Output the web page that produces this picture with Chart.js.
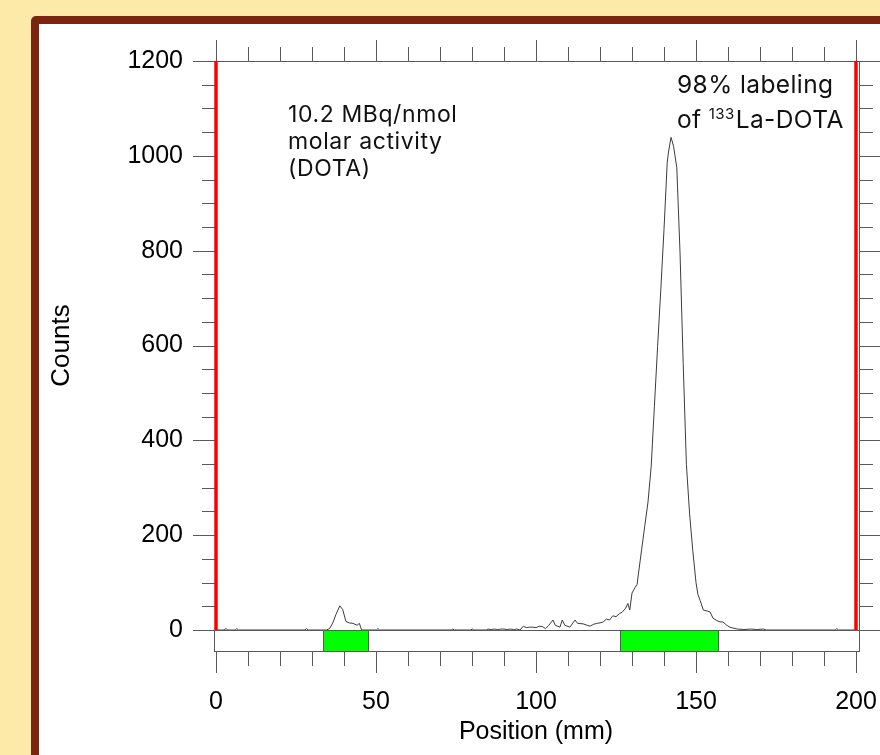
<!DOCTYPE html>
<html>
<head>
<meta charset="utf-8">
<script src="https://cdn.jsdelivr.net/npm/chart.js@4.4.1/dist/chart.umd.min.js"></script>
<style>
  html, body { margin: 0; padding: 0; width: 880px; height: 755px; overflow: hidden; background: #fde9a8; }
  #frame { position: absolute; left: 31px; top: 16px; width: 900px; height: 800px; background: #fff;
           border: 8px solid #7a2512; border-radius: 5px; box-sizing: border-box; }
  #chart { position: absolute; left: 0; top: 0; }
</style>
</head>
<body>
<div id="frame"></div>
<canvas id="chart" width="880" height="755"></canvas>
<script>
// Radio-TLC scan
const positions = [0, 2.5, 3.1, 3.7, 6.0, 6.5, 7.0, 27.8, 28.3, 28.8,
    34.5, 35.5, 36.5, 37.5, 38.7, 39.6, 40.6, 41.6, 42.8, 44.1, 44.8, 45.5,
    50.1, 50.6, 51.1, 73.5, 74, 74.5, 79.6, 80.1, 80.6,
    84.5, 85, 86, 87, 88, 89, 90, 91, 92, 93, 94, 95,
    96, 97, 98, 99, 100, 101, 102, 103, 104, 105.3, 106, 107.5, 108.2, 109, 110.6, 112.2, 113, 114.7,
    116, 116.9, 118, 119, 120, 121, 122, 123, 124, 125, 126, 127, 128, 128.7, 129.3,
    130, 131, 131.6, 132, 133, 134, 135, 136, 137, 138, 139, 140, 141, 141.4, 142.2,
    143, 144, 145, 146, 147, 148, 149, 150, 150.6, 151.3, 152.3, 153.5, 154.4, 155.3,
    156.5, 157.5, 158.4, 159.6, 160.6, 161.6, 163, 165, 167, 169, 171, 172,
    193.5, 194, 194.5, 200];
const counts = [0, 0, 3, 0, 0, 3, 0, 0, 3, 0,
    0, 3, 15, 33, 51, 43, 18, 15, 14, 10, 14, 0,
    0, 3, 0, 0, 2, 0, 0, 2, 0,
    0, 2, 1, 2, 1, 2, 2, 1, 2, 1, 2, 0,
    8, 5, 6, 6, 5, 8, 7, 3, 10, 21, 10, 6, 21, 10, 6, 21, 14, 13,
    10, 8, 12, 14, 15, 17, 23, 21, 30, 28, 34, 38, 46, 56, 42,
    78, 90, 96, 118, 169, 220, 270, 345, 472, 598, 718, 845, 985, 1008, 1039,
    1020, 975, 797, 562, 349, 245, 167, 100, 75, 62, 42, 40, 38, 25,
    20, 17, 17, 10, 6, 4, 2, 1, 2, 1, 2, 0,
    0, 3, 0, 0];

const xTicks = [0, 50, 100, 150, 200];
const yTicks = [0, 200, 400, 600, 800, 1000, 1200];
const xMinorStep = 10;
const yMinorStep = 50;

// regions of interest drawn in the lane strip
const roiStart = [33.4, 126.4];
const roiEnd = [47.6, 156.8];
// origin and front markers
const markers = [0, 200];

const tickFont = { family: "'Liberation Sans', Arial, sans-serif", size: 25 };

// lane strip, ROIs, tick marks, markers, notes
const laneDecor = {
    id: 'laneDecor',
    beforeDatasetsDraw(chart) {
        const { ctx, chartArea: a, scales: { x, y } } = chart;
        const stripH = 21;
        const axisR = a.right + 3;
        ctx.save();
        ctx.lineWidth = 1;
        ctx.strokeStyle = '#5a5a5a';

        // strip box
        ctx.strokeRect(a.left - 2 + 0.5, a.bottom + 0.5, axisR - a.left + 2, stripH);
        roiStart.forEach((s, i) => {
            const x0 = Math.round(x.getPixelForValue(s));
            const x1 = Math.round(x.getPixelForValue(roiEnd[i]));
            ctx.fillStyle = '#00ff00';
            ctx.fillRect(x0, a.bottom + 1, x1 - x0, stripH - 1);
            ctx.strokeRect(x0 + 0.5, a.bottom + 0.5, x1 - x0, stripH);
        });

        ctx.beginPath();
        // top and right axis lines
        ctx.moveTo(a.left, a.top + 0.5);
        ctx.lineTo(axisR, a.top + 0.5);
        ctx.moveTo(axisR + 0.5, a.top);
        ctx.lineTo(axisR + 0.5, a.bottom + stripH);

        for (let v = x.min; v <= x.max; v += xMinorStep) {
            const px = Math.round(x.getPixelForValue(v)) + 0.5;
            const major = xTicks.includes(v);
            ctx.moveTo(px, a.top);
            ctx.lineTo(px, a.top - (major ? 21 : 14));
            ctx.moveTo(px, a.bottom + stripH + 1);
            ctx.lineTo(px, a.bottom + stripH + (major ? 22 : 15));
        }
        for (let c = y.min; c <= y.max; c += yMinorStep) {
            const py = Math.round(y.getPixelForValue(c)) + 0.5;
            const major = yTicks.includes(c);
            ctx.moveTo(a.left, py);
            ctx.lineTo(a.left - (major ? 23 : 14), py);
            ctx.moveTo(axisR, py);
            ctx.lineTo(axisR + (major ? 23 : 14), py);
        }
        ctx.stroke();
        ctx.restore();
    },
    afterDatasetsDraw(chart) {
        const { ctx, chartArea: a, scales: { x } } = chart;
        ctx.save();
        ctx.strokeStyle = '#ff0000';
        ctx.lineWidth = 3.5;
        markers.forEach(m => {
            const px = x.getPixelForValue(m);
            ctx.beginPath();
            ctx.moveTo(px, a.top);
            ctx.lineTo(px, a.bottom);
            ctx.stroke();
        });

        ctx.fillStyle = '#111';
        ctx.textBaseline = 'alphabetic';
        ctx.letterSpacing = '0.6px';
        ctx.font = '23px Inter, sans-serif';
        ctx.fillText('10.2 MBq/nmol', a.left + 72, a.top + 61);
        ctx.fillText('molar activity', a.left + 72, a.top + 88);
        ctx.fillText('(DOTA)', a.left + 72, a.top + 115);

        const rx = a.left + 461;
        ctx.letterSpacing = '0.4px';
        ctx.font = '24.5px Inter, sans-serif';
        ctx.fillText('98% labeling', rx, a.top + 32);
        ctx.fillText('of ', rx, a.top + 67);
        let w = ctx.measureText('of ').width;
        ctx.font = '15px Inter, sans-serif';
        ctx.fillText('133', rx + w, a.top + 58);
        w += ctx.measureText('133').width + 1;
        ctx.font = '24.5px Inter, sans-serif';
        ctx.fillText('La-DOTA', rx + w, a.top + 67);
        ctx.restore();
    }
};

new Chart(document.getElementById('chart'), {
    type: 'scatter',
    data: {
        datasets: [{
            data: positions.map((p, i) => ({ x: p, y: counts[i] })),
            showLine: true,
            borderColor: '#3c3c3c',
            borderWidth: 1,
            pointRadius: 0,
            tension: 0
        }]
    },
    options: {
        responsive: false,
        animation: false,
        layout: { padding: { top: 61, right: 24, left: 0, bottom: 0 } },
        plugins: { legend: { display: false }, tooltip: { enabled: false } },
        scales: {
            x: {
                type: 'linear',
                min: 0,
                max: 200,
                afterBuildTicks: s => { s.ticks = xTicks.map(v => ({ value: v })); },
                afterFit: s => { s.height = 125; s.paddingLeft = 0; s.paddingRight = 0; },
                grid: { display: false, drawTicks: false },
                border: { display: false },
                ticks: { padding: 57, color: '#000', font: tickFont, maxRotation: 0, autoSkip: false, callback: v => String(v) },
                title: { display: true, text: 'Position (mm)', color: '#000', font: tickFont, padding: { top: 0, bottom: 8 } }
            },
            y: {
                type: 'linear',
                min: 0,
                max: 1200,
                afterBuildTicks: s => { s.ticks = yTicks.map(v => ({ value: v })); },
                afterFit: s => { s.width = 216; s.paddingTop = 0; s.paddingBottom = 0; },
                grid: { display: false, drawTicks: false },
                border: { display: false },
                ticks: { padding: 33, color: '#000', font: tickFont, autoSkip: false, callback: v => String(v) },
                title: { display: true, text: 'Counts', color: '#000', font: { family: tickFont.family, size: 26 }, padding: { top: 46, bottom: 0 } }
            }
        }
    },
    plugins: [laneDecor]
});
</script>
</body>
</html>
